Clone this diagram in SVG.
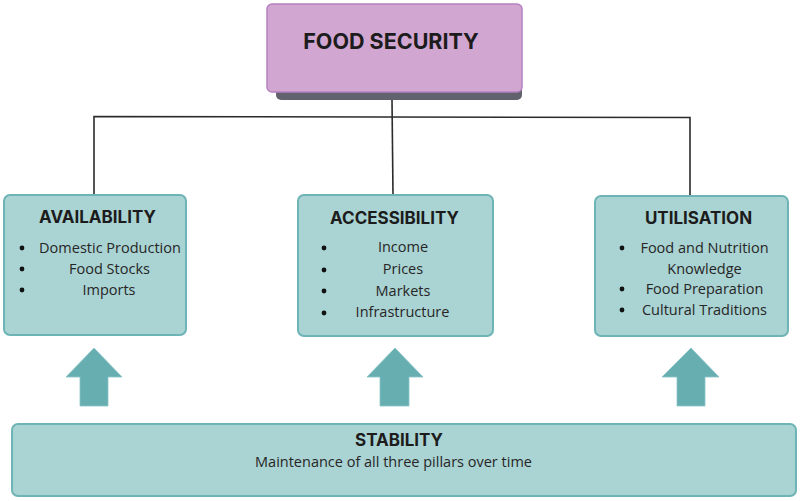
<svg xmlns="http://www.w3.org/2000/svg" width="800" height="501" viewBox="0 0 800 501">
<style>
.box{fill:#aad3d3;stroke:#6db4b6;stroke-width:2}
.arrow{fill:#67aeb1;stroke:#8cc4c6;stroke-width:0.8}
.title{font-family:Inter,"Liberation Sans",sans-serif;font-weight:700;fill:#1c1c1c;text-anchor:middle}
.item{font-family:"Open Sans","Liberation Sans",sans-serif;font-size:14.5px;fill:#262626;text-anchor:middle}
.conn{stroke:#2b2b2b;stroke-width:1.6;fill:none}
.dot{fill:#111}
</style>
<rect width="800" height="501" fill="#ffffff"/>
<g id="connectors">
<polyline class="conn" points="94,195 94,116.5 690,117.5 690,196"/>
<line class="conn" x1="392" y1="100" x2="393" y2="195"/>
</g>
<g id="food-security">
<rect x="276" y="12" width="246" height="88" rx="5" fill="#62626e"/>
<rect x="267" y="4" width="255" height="88" rx="5" fill="#d1a7d2" stroke="#b581c0" stroke-width="1.5"/>
<text class="title" x="391" y="49" font-size="21.5">FOOD SECURITY</text>
</g>
<g id="availability">
<rect class="box" x="4" y="195" width="182" height="140" rx="6"/>
<text class="title" x="97.5" y="223" font-size="17">AVAILABILITY</text>
<circle class="dot" cx="22" cy="248" r="2.4"/>
<circle class="dot" cx="22" cy="269" r="2.4"/>
<circle class="dot" cx="22" cy="290" r="2.4"/>
<text class="item" x="110" y="253">Domestic Production</text>
<text class="item" x="109.5" y="274">Food Stocks</text>
<text class="item" x="109" y="295">Imports</text>
</g>
<g id="accessibility">
<rect class="box" x="298" y="195" width="195" height="141" rx="6"/>
<text class="title" x="394.5" y="224" font-size="17">ACCESSIBILITY</text>
<circle class="dot" cx="324" cy="248" r="2.4"/>
<circle class="dot" cx="324" cy="270" r="2.4"/>
<circle class="dot" cx="324" cy="291" r="2.4"/>
<circle class="dot" cx="324" cy="313" r="2.4"/>
<text class="item" x="403" y="252">Income</text>
<text class="item" x="403" y="274">Prices</text>
<text class="item" x="403" y="296">Markets</text>
<text class="item" x="402.5" y="317">Infrastructure</text>
</g>
<g id="utilisation">
<rect class="box" x="595" y="196" width="193" height="140" rx="6"/>
<text class="title" x="698.5" y="224" font-size="17">UTILISATION</text>
<circle class="dot" cx="622" cy="248" r="2.4"/>
<circle class="dot" cx="622" cy="289" r="2.4"/>
<circle class="dot" cx="622" cy="310" r="2.4"/>
<text class="item" x="704.5" y="253">Food and Nutrition</text>
<text class="item" x="704.5" y="274">Knowledge</text>
<text class="item" x="704.5" y="294">Food Preparation</text>
<text class="item" x="704.5" y="315">Cultural Traditions</text>
</g>
<g id="arrows">
<polygon class="arrow" points="94,348 122,377 108,377 108,406 80,406 80,377 66,377"/>
<polygon class="arrow" points="395,348 423,377 409,377 409,406 380,406 380,377 367,377"/>
<polygon class="arrow" points="691,348 719,377 705,377 705,406 677,406 677,377 662,377"/>
</g>
<g id="stability">
<rect class="box" x="12" y="424" width="784" height="72" rx="6"/>
<text class="title" x="399" y="446" font-size="17">STABILITY</text>
<text class="item" x="393.5" y="467" font-size="15">Maintenance of all three pillars over time</text>
</g>
</svg>
